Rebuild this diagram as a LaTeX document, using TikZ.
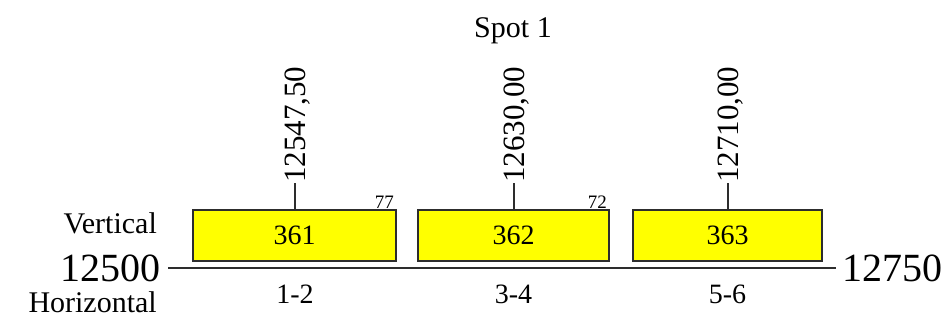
\documentclass[tikz,border=0pt]{standalone}
\usepackage{fontspec}
\setmainfont{Liberation Serif}
\definecolor{boxyellow}{RGB}{255,255,0}
\definecolor{linegray}{RGB}{45,45,45}
\begin{document}
\begin{tikzpicture}[x=1pt,y=-1pt,
  spotbox/.style={draw=linegray,line width=2pt,fill=boxyellow,inner sep=0pt,minimum width=#1,minimum height=51pt},
  big/.style={inner sep=0pt,font=\fontsize{40}{40}\selectfont},
  mid/.style={inner sep=0pt,font=\fontsize{30}{30}\selectfont},
  lab/.style={inner sep=0pt,font=\fontsize{28}{28}\selectfont},
  tiny/.style={inner sep=0pt,font=\fontsize{19}{19}\selectfont},
  rot/.style={inner sep=0pt,rotate=90,anchor=base west,font=\fontsize{31}{31}\selectfont},
  axisline/.style={draw=linegray,line width=2.5pt},
  tick/.style={draw=linegray,line width=2pt}]
\useasboundingbox (0,0) rectangle (951,321);
% title
\node[mid,anchor=base] (title) at (513,38) {Spot 1};
% axis
\coordinate (axL) at (168,268);
\coordinate (axR) at (836,268);
\draw[axisline] (axL) -- (axR);
\node[big,anchor=base east] (lft) at (161,281) {12500};
\node[big,anchor=base west] (rgt) at (842,281) {12750};
\node[mid,anchor=base east] (vert) at (157,233) {Vertical};
\node[mid,anchor=base east] (hor) at (157,312) {Horizontal};
% boxes
\node[spotbox=203pt,lab] (b1) at (294.5,235) {361};
\node[spotbox=191pt,lab] (b2) at (513.5,235) {362};
\node[spotbox=189pt,lab] (b3) at (727.5,235) {363};
% ticks
\coordinate (t1) at (294.5,183);
\coordinate (t2) at (513.5,183);
\coordinate (t3) at (727.5,183);
\draw[tick] (b1.north) -- (t1);
\draw[tick] (b2.north) -- (t2);
\draw[tick] (b3.north) -- (t3);
\node[rot] (v1) at ([xshift=10.5pt]t1) {12547,50};
\node[rot] (v2) at ([xshift=10.5pt]t2) {12630,00};
\node[rot] (v3) at ([xshift=10.5pt]t3) {12710,00};
% small numbers
\node[tiny,anchor=base east] (n1) at (394,208) {77};
\node[tiny,anchor=base east] (n2) at (607,208) {72};
% pair labels
\node[lab,anchor=base] (p1) at (295,303) {1-2};
\node[lab,anchor=base] (p2) at (513.5,303) {3-4};
\node[lab,anchor=base] (p3) at (727.5,303) {5-6};
\end{tikzpicture}
\end{document}
